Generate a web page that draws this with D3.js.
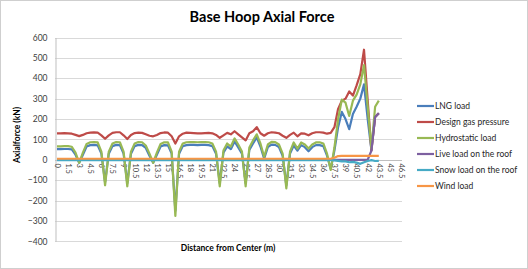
<!DOCTYPE html>
<html>
<head>
<meta charset="utf-8">
<script src="https://cdn.jsdelivr.net/npm/d3@7"></script>
<style>
  body { margin: 0; background: #fff; }
  svg { display: block; font-family: Lato, "Open Sans", sans-serif; }
</style>
</head>
<body>
<svg width="528" height="269"></svg>
<script>
// distance from center (m), one category every 0.5 m
var categories = [0,0.5,1,1.5,2,2.5,3,3.5,4,4.5,5,5.5,6,6.5,7,7.5,8,8.5,9,9.5,
  10,10.5,11,11.5,12,12.5,13,13.5,14,14.5,15,15.5,16,16.5,17,17.5,18,18.5,19,19.5,
  20,20.5,21,21.5,22,22.5,23,23.5,24,24.5,25,25.5,26,26.5,27,27.5,28,28.5,29,29.5,
  30,30.5,31,31.5,32,32.5,33,33.5,34,34.5,35,35.5,36,36.5,37,37.5,38,38.5,39,39.5,
  40,40.5,41,41.5,42,42.5,43,43.5,44,44.5,45,45.5,46,46.5];

var yTicks = [600,500,400,300,200,100,0,-100,-200,-300,-400];

var seriesNames = ["LNG load","Design gas pressure","Hydrostatic load",
  "Live load on the roof","Snow load on the roof","Wind load"];
var seriesColors = ["#4a7ebb","#be4b48","#98b954","#7d60a0","#46aac5","#f79646"];

var lngLoad = [52,52,53,53,51,25,-15,25,65,72,73,71,30,-110,30,67,73,72,30,-115,
  30,67,73,72,58,20,-15,25,65,72,71,30,-250,30,67,72,73,73,72,73,
  73,72,67,30,-115,35,66,52,90,60,30,-115,48,80,110,65,5,62,74,73,
  62,20,-125,30,70,45,72,62,42,62,72,72,67,20,-45,45,160,235,200,150,
  225,260,300,370,200,48,210,228];

var designGas = [130,130,131,130,128,122,116,122,130,133,134,133,120,103,120,132,135,135,120,102,
  122,131,133,132,125,118,115,122,131,134,133,115,80,115,128,133,132,131,130,130,
  131,132,130,122,108,120,132,125,140,125,110,95,130,140,160,130,118,130,135,133,
  130,118,108,122,133,115,130,128,120,130,135,135,133,128,132,160,250,290,300,335,
  315,365,420,540,290,45,210,228];

var hydrostatic = [66,66,67,67,64,35,-15,35,78,86,87,85,40,-125,40,80,87,86,40,-130,
  40,80,87,86,70,30,-15,35,78,86,85,40,-275,40,80,86,87,87,86,87,
  87,86,80,40,-130,45,80,65,105,75,40,-130,60,95,125,80,15,75,88,87,
  75,30,-140,40,85,55,85,75,55,75,85,86,80,30,-50,60,200,295,280,215,
  290,320,370,465,260,55,260,290];

var liveLoad = [0,0,0,0,0,0,0,0,0,0,0,0,0,0,0,0,0,0,0,0,
  0,0,0,0,0,0,0,0,0,0,0,0,0,0,0,0,0,0,0,0,
  0,0,0,0,0,0,0,0,0,0,0,0,0,0,0,0,0,0,0,0,
  0,0,0,0,0,0,0,0,0,0,0,0,0,0,0,0,0,0,0,0,
  0,0,0,0,0,45,210,228];

var snowLoad = [-2,-2,-2,-2,-2,-2,-2,-2,-2,-2,-2,-2,-2,-2,-2,-2,-2,-2,-2,-2,
  -2,-2,-2,-2,-2,-2,-2,-2,-2,-2,-2,-2,-2,-2,-2,-2,-2,-2,-2,-2,
  -2,-2,-2,-2,-2,-2,-2,-2,-2,-2,-2,-2,-2,-2,-2,-2,-2,-2,-2,-2,
  -2,-2,-2,-2,-2,-2,-2,-2,-2,-2,-2,-2,-2,-2,-2,-3,-5,-8,-8,-12,
  -10,-14,-20,-12,-6,-2,-6,-5];

var windLoad = [5,5,5,5,5,5,5,5,5,5,5,5,5,5,5,5,5,5,5,5,
  5,5,5,5,5,5,5,5,5,5,5,5,5,5,5,5,5,5,5,5,
  5,5,5,5,5,5,5,5,5,5,5,5,5,5,5,5,5,5,5,5,
  5,5,5,5,5,5,5,5,5,5,5,5,5,5,5,10,18,19,19,19,
  19,19,19,19,19,19,19,19];

var allSeries = [lngLoad, designGas, hydrostatic, liveLoad, snowLoad, windLoad];

var svg = d3.select("svg"),
    width = +svg.attr("width"),
    height = +svg.attr("height");

// chart border
svg.append("rect")
    .attr("x", 0.5).attr("y", 0.5)
    .attr("width", width - 1).attr("height", height - 1)
    .attr("fill", "#fff")
    .attr("stroke", "#cfcfcf");

var plot = {left: 55, right: 402, top: 37.5, bottom: 241.3};

var x = d3.scalePoint()
    .domain(categories)
    .range([57, 401]);

var y = d3.scaleLinear()
    .domain([-400, 600])
    .range([plot.bottom, plot.top]);

// gridlines
svg.append("g")
    .selectAll("line")
    .data(yTicks)
    .enter().append("line")
        .attr("x1", plot.left)
        .attr("x2", plot.right)
        .attr("y1", function(d) { return Math.round(y(d)) + 0.5; })
        .attr("y2", function(d) { return Math.round(y(d)) + 0.5; })
        .attr("stroke", "#d9d9d9")
        .attr("stroke-width", 1);

// y axis
var yAxis = svg.append("g")
    .attr("transform", "translate(" + (plot.left + 0.5) + ",0)")
    .call(d3.axisLeft(y).tickValues(yTicks).tickSize(0).tickPadding(8));
yAxis.select(".domain").attr("stroke", "#bfbfbf");
yAxis.selectAll("text")
    .attr("fill", "#404040")
    .style("font-size", "8.5px")
    .style("font-family", "Lato, sans-serif");

// x axis sits on the zero line
var xAxis = svg.append("g")
    .attr("transform", "translate(0," + (Math.round(y(0)) + 0.5) + ")")
    .call(d3.axisBottom(x)
        .tickValues(categories.filter(function(d, i) { return i % 3 === 0; }))
        .tickSize(0));
xAxis.select(".domain")
    .attr("d", "M" + plot.left + ",0H" + plot.right)
    .attr("stroke", "#bfbfbf");
xAxis.selectAll("text")
    .attr("transform", "rotate(90)")
    .attr("x", 3)
    .attr("y", 0)
    .attr("dy", "0.35em")
    .style("text-anchor", "start")
    .attr("fill", "#404040")
    .style("font-size", "7.5px")
    .style("font-family", "Lato, sans-serif");

// lines
var line = d3.line()
    .defined(function(d) { return d != null; })
    .x(function(d, i) { return x(categories[i]); })
    .y(function(d) { return y(d); });

svg.append("g")
    .selectAll("path")
    .data(allSeries)
    .enter().append("path")
        .attr("d", function(d) { return line(d); })
        .attr("fill", "none")
        .attr("stroke", function(d, i) { return seriesColors[i]; })
        .attr("stroke-width", 2.2)
        .attr("stroke-linejoin", "round");

// titles
svg.append("text")
    .attr("x", 262)
    .attr("y", 22)
    .attr("text-anchor", "middle")
    .style("font-size", "14.5px")
    .style("font-weight", "bold")
    .attr("fill", "#000")
    .text("Base Hoop Axial Force");

svg.append("text")
    .attr("transform", "translate(20,135) rotate(-90)")
    .attr("text-anchor", "middle")
    .style("font-size", "8.5px")
    .style("font-weight", "bold")
    .attr("fill", "#000")
    .text("Axialforce (kN)");

svg.append("text")
    .attr("x", 228)
    .attr("y", 251)
    .attr("text-anchor", "middle")
    .style("font-size", "8.5px")
    .style("font-weight", "bold")
    .attr("fill", "#000")
    .text("Distance from Center (m)");

// legend
var legend = svg.append("g")
    .selectAll("g")
    .data(seriesNames)
    .enter().append("g")
        .attr("transform", function(d, i) { return "translate(417," + (106 + i * 16) + ")"; });

legend.append("line")
    .attr("x1", 0).attr("x2", 17)
    .attr("y1", 0).attr("y2", 0)
    .attr("stroke", function(d, i) { return seriesColors[i]; })
    .attr("stroke-width", 2.2);

legend.append("text")
    .attr("x", 18)
    .attr("y", 0)
    .attr("dy", "0.35em")
    .style("font-size", "8.5px")
    .attr("fill", "#262626")
    .text(function(d) { return d; });
</script>
</body>
</html>
